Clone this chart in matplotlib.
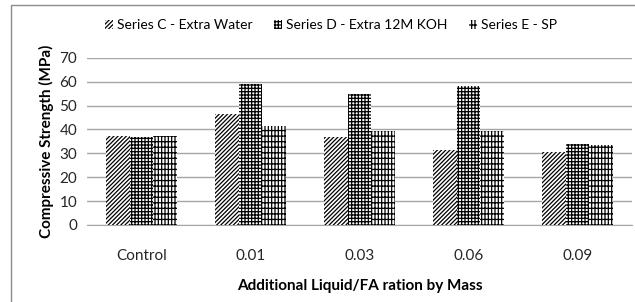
import numpy as np
from matplotlib import pyplot as plt
from matplotlib.patches import Rectangle

categories = ['Control', '0.01', '0.03', '0.06', '0.09']
series_names = ['Series C - Extra Water', 'Series D - Extra 12M KOH', 'Series E - SP']
series_c = [37.2, 46.5, 37.0, 31.3, 30.6]
series_d = [37.0, 59.2, 55.0, 58.3, 34.0]
series_e = [37.2, 41.6, 39.4, 39.4, 33.4]
hatches = ['////////', '+++++', '|||||---']

plt.rcParams['font.family'] = ['Lato', 'DejaVu Sans']
plt.rcParams['font.size'] = 10
plt.rcParams['hatch.linewidth'] = 0.9

W, H = 635, 302
fig = plt.figure(figsize=(W/100, H/100), dpi=100)
ax = fig.add_axes([87/W, 1-225/H, (632-87)/W, (225-57.8)/H])

x = np.arange(len(categories))
bw = 0.22
for k, vals in enumerate([series_c, series_d, series_e]):
    ax.bar(x + (k-1)*bw, vals, bw, color='white', edgecolor='black',
           linewidth=0, hatch=hatches[k], label=series_names[k], zorder=3)

ax.set_xlim(-0.5, 4.5)
ax.set_ylim(0, 70)
ax.set_yticks(np.arange(0, 71, 10))
ax.set_xticks(x)
ax.set_xticklabels(categories)
ax.tick_params(length=0, labelsize=11, colors='#262626')
ax.tick_params(axis='x', pad=17)
ax.tick_params(axis='y', pad=7)
ax.grid(axis='y', color='#a6a6a6', linewidth=1, zorder=0)
for s in ['left', 'right', 'top']:
    ax.spines[s].set_visible(False)
ax.spines['bottom'].set_color('#a6a6a6')

ax.set_xlabel('Additional Liquid/FA ration by Mass', fontweight='bold', fontsize=11, labelpad=12)
ax.set_ylabel('Compressive Strength (MPa)', fontweight='bold', fontsize=11, labelpad=4)

fig.legend(loc='center', bbox_to_anchor=(331/W, 1-25/H), ncol=3, frameon=False,
           handlelength=0.6, handleheight=0.6, handletextpad=0.3,
           columnspacing=1.5, fontsize=10)

fig.patches.append(Rectangle((11/W, -0.1), 1.0, 1-5/H+0.1, transform=fig.transFigure,
                             fill=False, edgecolor='#8c8c8c', linewidth=1))

fig.savefig('out.png', dpi=100)
